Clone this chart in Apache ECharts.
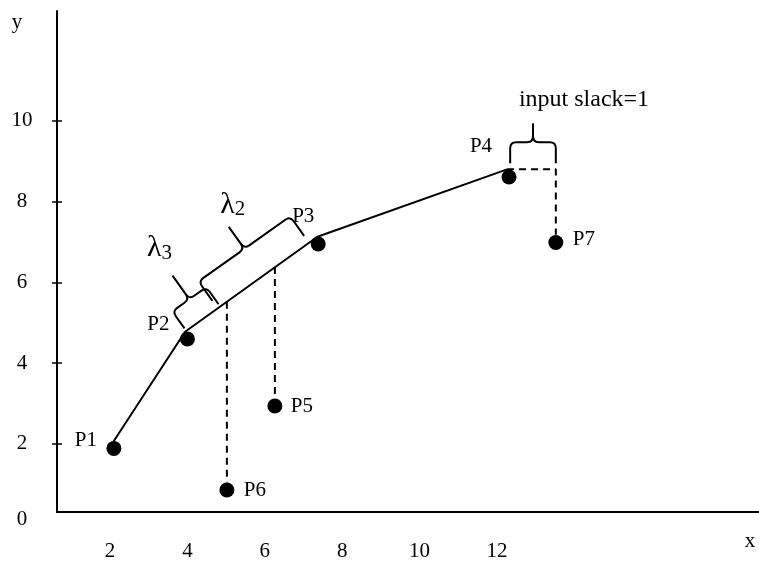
<!DOCTYPE html>
<html>
<head>
<meta charset="utf-8">
<script src="https://cdn.jsdelivr.net/npm/echarts@6/dist/echarts.min.js"></script>
<style>
html,body{margin:0;padding:0;background:#fff;}
#chart{width:759px;height:563px;}
</style>
</head>
<body>
<div id="chart"></div>
<script>
// ---- data ----
const xTicks = [2, 4, 6, 8, 10, 12];
const yTicks = [0, 2, 4, 6, 8, 10];
const pointNames = ['P1', 'P2', 'P3', 'P4', 'P5', 'P6', 'P7'];
const pointX = [2.10, 4.00, 7.38, 12.31, 6.26, 5.02, 13.52];
const pointY = [1.89, 4.60, 6.95, 8.61, 2.94, 0.86, 6.99];
const frontierX = [2.09, 3.94, 7.36, 12.26];
const frontierY = [2.06, 4.78, 7.13, 8.80];
const slackX = [12.26, 13.52, 13.52];
const slackY = [8.80, 8.80, 7.18];
const p5DropX = [6.26, 6.26];
const p5DropY = [6.38, 3.13];
const p6DropX = [5.02, 5.02];
const p6DropY = [5.52, 1.05];
const braceLabels = ['λ3', 'λ2', 'input slack=1'];
const braceX1 = [3.97, 4.78, 12.34];
const braceY1 = [4.80, 5.36, 8.80];
const braceX2 = [4.85, 7.15, 13.52];
const braceY2 = [5.40, 6.97, 8.80];

// ---- layout / style ----
const FONT = 'Liberation Serif';
const xMin = 0.63, xMax = 18.77, yMin = 0.316, yMax = 12.72;
const pointLabelOffsets = [[-28, -8], [-29, -14], [-15, -28], [-28, -31], [27, 0], [28, 0], [28, -3]];
const braceStyles = [
  {gap: 3, leg: 21, cusp: 29, dx: -13, dy: -27},
  {gap: 9, leg: 24, cusp: 27, dx: 4, dy: -22},
  {gap: 6, leg: 21, cusp: 19, dx: 51, dy: -24}
];

function zip(xs, ys) { return xs.map((x, i) => [x, ys[i]]); }
function dashed(xs, ys) {
  return {type: 'line', data: zip(xs, ys), symbol: 'none', silent: true,
    lineStyle: {color: '#000', width: 2, type: [7, 5]}, z: 2};
}

function braceRender(params, api) {
  const i = params.dataIndex;
  const st = braceStyles[i];
  const a = api.coord([api.value(0), api.value(1)]);
  const b = api.coord([api.value(2), api.value(3)]);
  const dx = b[0] - a[0], dy = b[1] - a[1];
  const len = Math.sqrt(dx * dx + dy * dy);
  const t = [dx / len, dy / len];
  const n = [t[1], -t[0]];
  const h = st.gap + st.leg;
  const r = Math.min(6, st.leg / 2, len / 6);
  const P = (base, kn, kt) => [base[0] + n[0] * kn + t[0] * kt, base[1] + n[1] * kn + t[1] * kt];
  const mid = [(a[0] + b[0]) / 2, (a[1] + b[1]) / 2];
  const A = P(a, st.gap, 0), A2 = P(a, h, 0), B = P(b, st.gap, 0), B2 = P(b, h, 0);
  const M = P(mid, h, 0), T = P(mid, h + st.cusp, 0);
  const f = p => p[0].toFixed(2) + ' ' + p[1].toFixed(2);
  const d =
    'M' + f(A) + ' L' + f(P(a, h - r, 0)) + ' Q' + f(A2) + ' ' + f(P(a, h, r)) +
    ' L' + f(P(mid, h, -r)) + ' Q' + f(M) + ' ' + f(P(mid, h + r, 0)) + ' L' + f(T) +
    ' M' + f(T) + ' L' + f(P(mid, h + r, 0)) + ' Q' + f(M) + ' ' + f(P(mid, h, r)) +
    ' L' + f(P(b, h, -r)) + ' Q' + f(B2) + ' ' + f(P(b, h - r, 0)) + ' L' + f(B);
  const lab = braceLabels[i];
  let textStyle;
  if (lab.charAt(0) === 'λ') {
    textStyle = {text: '{l|λ}{n|' + lab.slice(1) + '}', fill: '#000', align: 'center', verticalAlign: 'middle',
      rich: {l: {fontFamily: FONT, fontSize: 30, fill: '#000', color: '#000', verticalAlign: 'bottom'},
             n: {fontFamily: FONT, fontSize: 21, fill: '#000', color: '#000', verticalAlign: 'bottom'}}};
  } else {
    textStyle = {text: lab, fill: '#000', fontFamily: FONT, fontSize: 24, align: 'center', verticalAlign: 'middle'};
  }
  return {
    type: 'group',
    children: [
      {type: 'path', shape: {pathData: d}, style: {stroke: '#000', fill: 'none', lineWidth: 2}},
      {type: 'text', x: T[0] + st.dx, y: T[1] + st.dy, style: textStyle}
    ]
  };
}

const chart = echarts.init(document.getElementById('chart'), null, {renderer: 'canvas'});
const axisTextStyle = {fontFamily: FONT, fontSize: 21, color: '#000'};
chart.setOption({
  animation: false,
  backgroundColor: '#fff',
  grid: {left: 57, right: 0, top: 11, bottom: 51, containLabel: false},
  xAxis: {
    type: 'value', min: xMin, max: xMax,
    name: 'x', nameLocation: 'end', nameGap: -9,
    nameTextStyle: Object.assign({}, axisTextStyle, {align: 'center', verticalAlign: 'top', padding: [19, 0, 0, 0]}),
    axisLine: {show: true, onZero: false, lineStyle: {color: '#000', width: 2}},
    axisTick: {show: false},
    splitLine: {show: false},
    axisLabel: Object.assign({}, axisTextStyle, {
      customValues: xTicks, margin: 39, verticalAlign: 'middle',
      formatter: v => String(v)
    })
  },
  yAxis: [{
    type: 'value', min: yMin, max: yMax,
    name: 'y', nameLocation: 'end', nameGap: -11,
    nameTextStyle: Object.assign({}, axisTextStyle, {align: 'center', verticalAlign: 'middle', padding: [0, 80, 0, 0]}),
    axisLine: {show: true, onZero: false, lineStyle: {color: '#000', width: 2}},
    axisTick: {show: true, customValues: yTicks.filter(v => v > 0), length: 5, lineStyle: {color: '#000', width: 1.5}},
    splitLine: {show: false},
    axisLabel: Object.assign({}, axisTextStyle, {
      customValues: yTicks.map(v => (v === 0 ? yMin + 0.001 : v)),
      margin: 35, align: 'center',
      formatter: v => (v < 1 ? '{z|' + yTicks[0] + '}' : String(v)),
      rich: {z: {fontFamily: FONT, fontSize: 21, color: '#000', padding: [16, 0, 0, 0]}}
    })
  }, {
    type: 'value', min: yMin, max: yMax, position: 'left',
    axisLine: {show: false},
    axisLabel: {show: false},
    splitLine: {show: false},
    axisTick: {show: true, inside: true, customValues: yTicks.filter(v => v > 0), length: 5, lineStyle: {color: '#000', width: 1.5}}
  }],
  series: [
    {type: 'line', data: zip(frontierX, frontierY), symbol: 'none', silent: true,
      lineStyle: {color: '#000', width: 2}, z: 3},
    dashed(slackX, slackY),
    dashed(p5DropX, p5DropY),
    dashed(p6DropX, p6DropY),
    {type: 'scatter', symbol: 'circle', symbolSize: 15, z: 5,
      itemStyle: {color: '#000', opacity: 1},
      label: {show: true, position: 'inside', formatter: '{b}', color: '#000', opacity: 1, fontFamily: FONT, fontSize: 21},
      data: pointX.map((x, i) => ({value: [x, pointY[i]], name: pointNames[i], label: {offset: pointLabelOffsets[i]}}))},
    {type: 'custom', renderItem: braceRender, encode: {x: [0, 2], y: [1, 3]}, z: 4, silent: true,
      data: braceX1.map((x, i) => [x, braceY1[i], braceX2[i], braceY2[i]])}
  ]
});
</script>
</body>
</html>
